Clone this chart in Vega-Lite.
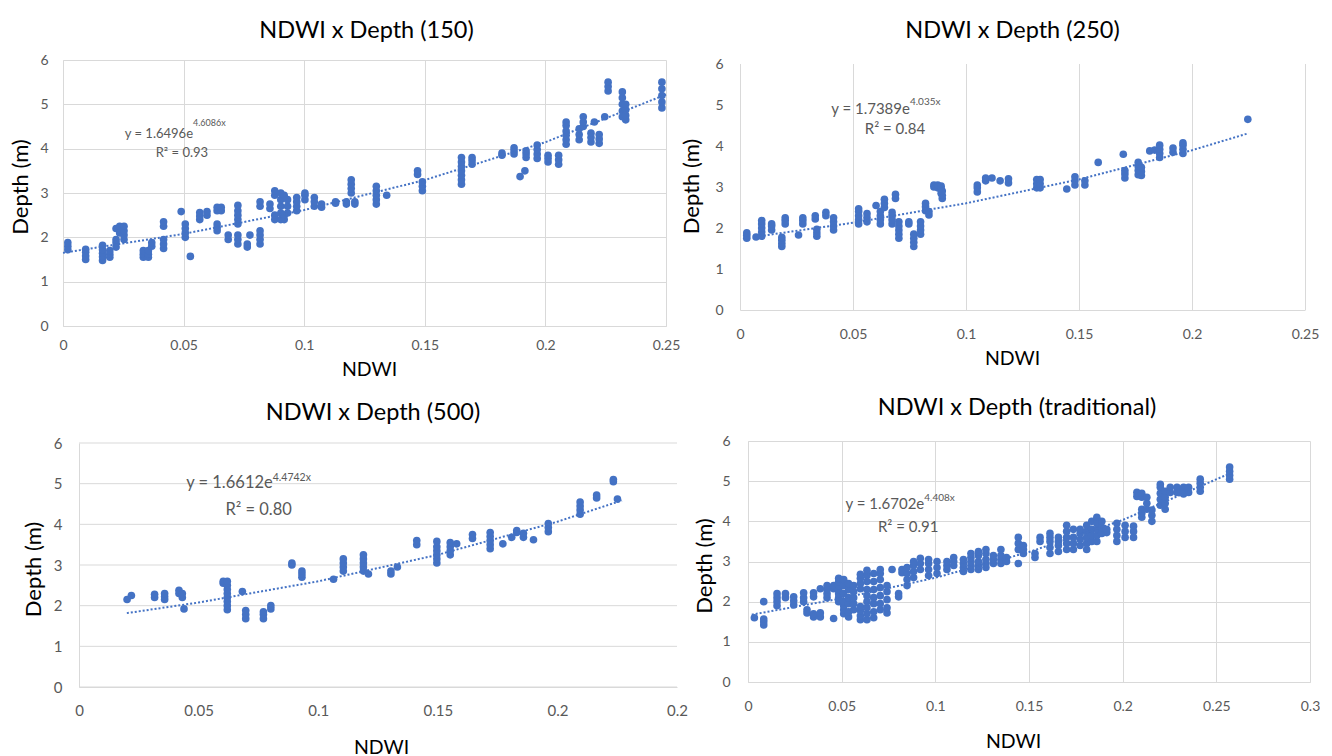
{
"$schema": "https://vega.github.io/schema/vega-lite/v6.json",
"background": "white",
"padding": {"left": 9, "top": 18, "right": 0, "bottom": 0},
"config": {
  "view": {"stroke": null},
  "font": "Lato",
  "axis": {"gridColor": "#d9d9d9", "domainColor": "#d9d9d9", "ticks": false, "labelColor": "#595959", "labelFontSize": 14, "labelFont": "Lato", "titleFont": "Lato", "titleColor": "#000000", "titleFontWeight": "normal", "labelFlush": false, "labelOverlap": false},
  "title": {"fontSize": 23.5, "fontWeight": "normal", "color": "#000000", "font": "Lato"}
},
"datasets": {
  "p150": [
    {"ndwi":0.002,"depth":1.72},{"ndwi":0.002,"depth":1.8},{"ndwi":0.002,"depth":1.88},
    {"ndwi":0.0094,"depth":1.5},{"ndwi":0.0094,"depth":1.58},{"ndwi":0.0094,"depth":1.66},{"ndwi":0.0094,"depth":1.73},
    {"ndwi":0.0164,"depth":1.48},{"ndwi":0.0164,"depth":1.56},{"ndwi":0.0164,"depth":1.64},{"ndwi":0.0164,"depth":1.72},{"ndwi":0.0164,"depth":1.82},
    {"ndwi":0.0194,"depth":1.55},{"ndwi":0.0194,"depth":1.62},{"ndwi":0.0194,"depth":1.7},
    {"ndwi":0.022,"depth":1.78},{"ndwi":0.022,"depth":1.88},{"ndwi":0.022,"depth":1.95},{"ndwi":0.022,"depth":2.2},
    {"ndwi":0.0235,"depth":2.1},{"ndwi":0.0235,"depth":2.25},
    {"ndwi":0.0253,"depth":1.95},{"ndwi":0.0253,"depth":2.05},{"ndwi":0.0253,"depth":2.15},{"ndwi":0.0253,"depth":2.25},
    {"ndwi":0.0333,"depth":1.55},{"ndwi":0.0333,"depth":1.62},{"ndwi":0.0333,"depth":1.7},
    {"ndwi":0.0354,"depth":1.55},{"ndwi":0.0354,"depth":1.62},{"ndwi":0.0354,"depth":1.7},
    {"ndwi":0.0368,"depth":1.8},{"ndwi":0.0368,"depth":1.88},
    {"ndwi":0.0417,"depth":1.75},{"ndwi":0.0417,"depth":1.85},{"ndwi":0.0417,"depth":1.95},{"ndwi":0.0417,"depth":2.25},{"ndwi":0.0417,"depth":2.35},
    {"ndwi":0.049,"depth":2.58},
    {"ndwi":0.0507,"depth":2.0},{"ndwi":0.0507,"depth":2.1},{"ndwi":0.0507,"depth":2.2},{"ndwi":0.0507,"depth":2.3},
    {"ndwi":0.0528,"depth":1.57},
    {"ndwi":0.0567,"depth":2.4},{"ndwi":0.0567,"depth":2.48},{"ndwi":0.0567,"depth":2.56},
    {"ndwi":0.0597,"depth":2.5},{"ndwi":0.0597,"depth":2.58},
    {"ndwi":0.0639,"depth":2.6},{"ndwi":0.0639,"depth":2.68},{"ndwi":0.0639,"depth":2.15},{"ndwi":0.0639,"depth":2.22},{"ndwi":0.0639,"depth":2.3},
    {"ndwi":0.0656,"depth":2.6},{"ndwi":0.0656,"depth":2.68},
    {"ndwi":0.0685,"depth":1.95},{"ndwi":0.0685,"depth":2.05},
    {"ndwi":0.0725,"depth":2.3},{"ndwi":0.0725,"depth":2.4},{"ndwi":0.0725,"depth":2.5},{"ndwi":0.0725,"depth":2.6},{"ndwi":0.0725,"depth":2.72},{"ndwi":0.0725,"depth":1.85},{"ndwi":0.0725,"depth":1.95},{"ndwi":0.0725,"depth":2.05},
    {"ndwi":0.0764,"depth":1.78},{"ndwi":0.0764,"depth":1.85},
    {"ndwi":0.0775,"depth":2.05},
    {"ndwi":0.0817,"depth":1.85},{"ndwi":0.0817,"depth":1.95},{"ndwi":0.0817,"depth":2.05},{"ndwi":0.0817,"depth":2.15},{"ndwi":0.0817,"depth":2.7},{"ndwi":0.0817,"depth":2.8},
    {"ndwi":0.0858,"depth":2.65},{"ndwi":0.0858,"depth":2.75},
    {"ndwi":0.0878,"depth":2.95},{"ndwi":0.0878,"depth":3.05},{"ndwi":0.0878,"depth":2.4},{"ndwi":0.0878,"depth":2.5},
    {"ndwi":0.0903,"depth":2.4},{"ndwi":0.0903,"depth":2.55},{"ndwi":0.0903,"depth":2.7},{"ndwi":0.0903,"depth":2.85},{"ndwi":0.0903,"depth":3.0},
    {"ndwi":0.0917,"depth":2.4},{"ndwi":0.0917,"depth":2.5},{"ndwi":0.0917,"depth":2.95},
    {"ndwi":0.0931,"depth":2.55},{"ndwi":0.0931,"depth":2.7},{"ndwi":0.0931,"depth":2.85},
    {"ndwi":0.0969,"depth":2.6},{"ndwi":0.0969,"depth":2.7},{"ndwi":0.0969,"depth":2.8},{"ndwi":0.0969,"depth":2.9},
    {"ndwi":0.1003,"depth":2.85},{"ndwi":0.1003,"depth":2.95},{"ndwi":0.1003,"depth":3.0},
    {"ndwi":0.1042,"depth":2.7},{"ndwi":0.1042,"depth":2.8},{"ndwi":0.1042,"depth":2.9},
    {"ndwi":0.1072,"depth":2.68},{"ndwi":0.1072,"depth":2.75},
    {"ndwi":0.113,"depth":2.77},{"ndwi":0.113,"depth":2.8},
    {"ndwi":0.1175,"depth":2.75},{"ndwi":0.1175,"depth":2.8},
    {"ndwi":0.1195,"depth":3.0},{"ndwi":0.1195,"depth":3.1},{"ndwi":0.1195,"depth":3.2},{"ndwi":0.1195,"depth":3.3},
    {"ndwi":0.121,"depth":2.75},{"ndwi":0.121,"depth":2.8},
    {"ndwi":0.1299,"depth":2.75},{"ndwi":0.1299,"depth":2.85},{"ndwi":0.1299,"depth":2.95},{"ndwi":0.1299,"depth":3.05},{"ndwi":0.1299,"depth":3.15},
    {"ndwi":0.1342,"depth":2.95},
    {"ndwi":0.147,"depth":3.42},{"ndwi":0.147,"depth":3.5},
    {"ndwi":0.149,"depth":3.05},{"ndwi":0.149,"depth":3.15},{"ndwi":0.149,"depth":3.25},
    {"ndwi":0.1652,"depth":3.2},{"ndwi":0.1652,"depth":3.3},{"ndwi":0.1652,"depth":3.4},{"ndwi":0.1652,"depth":3.5},{"ndwi":0.1652,"depth":3.6},{"ndwi":0.1652,"depth":3.7},{"ndwi":0.1652,"depth":3.8},
    {"ndwi":0.1696,"depth":3.65},{"ndwi":0.1696,"depth":3.73},{"ndwi":0.1696,"depth":3.8},
    {"ndwi":0.182,"depth":3.85},{"ndwi":0.182,"depth":3.9},
    {"ndwi":0.187,"depth":3.88},{"ndwi":0.187,"depth":3.95},{"ndwi":0.187,"depth":4.02},
    {"ndwi":0.1895,"depth":3.37},
    {"ndwi":0.1915,"depth":3.5},
    {"ndwi":0.192,"depth":3.8},{"ndwi":0.192,"depth":3.88},{"ndwi":0.192,"depth":3.95},
    {"ndwi":0.1966,"depth":3.78},{"ndwi":0.1966,"depth":3.88},{"ndwi":0.1966,"depth":3.98},{"ndwi":0.1966,"depth":4.08},
    {"ndwi":0.2011,"depth":3.7},{"ndwi":0.2011,"depth":3.78},{"ndwi":0.2011,"depth":3.85},
    {"ndwi":0.2055,"depth":3.65},{"ndwi":0.2055,"depth":3.75},{"ndwi":0.2055,"depth":3.85},
    {"ndwi":0.2086,"depth":4.1},{"ndwi":0.2086,"depth":4.2},{"ndwi":0.2086,"depth":4.3},{"ndwi":0.2086,"depth":4.4},{"ndwi":0.2086,"depth":4.52},{"ndwi":0.2086,"depth":4.6},
    {"ndwi":0.214,"depth":4.2},{"ndwi":0.214,"depth":4.32},{"ndwi":0.214,"depth":4.45},
    {"ndwi":0.2157,"depth":4.5},{"ndwi":0.2157,"depth":4.6},{"ndwi":0.2157,"depth":4.72},
    {"ndwi":0.2189,"depth":4.15},{"ndwi":0.2189,"depth":4.25},{"ndwi":0.2189,"depth":4.35},
    {"ndwi":0.2203,"depth":4.6},
    {"ndwi":0.2223,"depth":4.12},{"ndwi":0.2223,"depth":4.22},{"ndwi":0.2223,"depth":4.32},
    {"ndwi":0.2246,"depth":4.72},
    {"ndwi":0.226,"depth":5.3},{"ndwi":0.226,"depth":5.4},{"ndwi":0.226,"depth":5.5},
    {"ndwi":0.2319,"depth":4.72},{"ndwi":0.2319,"depth":4.85},{"ndwi":0.2319,"depth":5.0},{"ndwi":0.2319,"depth":5.15},{"ndwi":0.2319,"depth":5.28},
    {"ndwi":0.2333,"depth":4.65},{"ndwi":0.2333,"depth":4.75},{"ndwi":0.2333,"depth":4.88},{"ndwi":0.2333,"depth":5.0},
    {"ndwi":0.2483,"depth":4.92},{"ndwi":0.2483,"depth":5.05},{"ndwi":0.2483,"depth":5.2},{"ndwi":0.2483,"depth":5.35},{"ndwi":0.2483,"depth":5.5}
  ],
  "p250": [
    {"ndwi":0.003,"depth":1.75},{"ndwi":0.003,"depth":1.82},{"ndwi":0.003,"depth":1.88},
    {"ndwi":0.0071,"depth":1.78},
    {"ndwi":0.0096,"depth":1.8},{"ndwi":0.0096,"depth":1.9},{"ndwi":0.0096,"depth":2.0},{"ndwi":0.0096,"depth":2.1},{"ndwi":0.0096,"depth":2.18},
    {"ndwi":0.014,"depth":1.95},{"ndwi":0.014,"depth":2.05},{"ndwi":0.014,"depth":2.1},
    {"ndwi":0.0185,"depth":1.55},{"ndwi":0.0185,"depth":1.62},{"ndwi":0.0185,"depth":1.7},{"ndwi":0.0185,"depth":1.77},
    {"ndwi":0.02,"depth":2.1},{"ndwi":0.02,"depth":2.18},{"ndwi":0.02,"depth":2.25},
    {"ndwi":0.0259,"depth":1.83},
    {"ndwi":0.0278,"depth":2.1},{"ndwi":0.0278,"depth":2.18},{"ndwi":0.0278,"depth":2.25},
    {"ndwi":0.0333,"depth":2.22},{"ndwi":0.0333,"depth":2.3},
    {"ndwi":0.034,"depth":1.8},{"ndwi":0.034,"depth":1.88},{"ndwi":0.034,"depth":1.97},
    {"ndwi":0.038,"depth":2.3},{"ndwi":0.038,"depth":2.38},
    {"ndwi":0.0414,"depth":1.95},{"ndwi":0.0414,"depth":2.05},{"ndwi":0.0414,"depth":2.15},{"ndwi":0.0414,"depth":2.25},
    {"ndwi":0.0525,"depth":2.1},{"ndwi":0.0525,"depth":2.2},{"ndwi":0.0525,"depth":2.3},{"ndwi":0.0525,"depth":2.4},{"ndwi":0.0525,"depth":2.47},
    {"ndwi":0.0562,"depth":2.15},{"ndwi":0.0562,"depth":2.25},{"ndwi":0.0562,"depth":2.35},
    {"ndwi":0.0602,"depth":2.55},
    {"ndwi":0.0621,"depth":2.1},{"ndwi":0.0621,"depth":2.2},{"ndwi":0.0621,"depth":2.3},{"ndwi":0.0621,"depth":2.4},
    {"ndwi":0.0639,"depth":2.5},{"ndwi":0.0639,"depth":2.6},{"ndwi":0.0639,"depth":2.7},
    {"ndwi":0.0673,"depth":2.1},{"ndwi":0.0673,"depth":2.2},{"ndwi":0.0673,"depth":2.3},{"ndwi":0.0673,"depth":2.38},
    {"ndwi":0.0688,"depth":2.72},{"ndwi":0.0688,"depth":2.82},
    {"ndwi":0.0703,"depth":1.75},{"ndwi":0.0703,"depth":1.85},{"ndwi":0.0703,"depth":1.95},{"ndwi":0.0703,"depth":2.05},{"ndwi":0.0703,"depth":2.15},
    {"ndwi":0.0747,"depth":2.1},{"ndwi":0.0747,"depth":2.15},
    {"ndwi":0.0769,"depth":1.55},{"ndwi":0.0769,"depth":1.65},{"ndwi":0.0769,"depth":1.75},{"ndwi":0.0769,"depth":1.85},
    {"ndwi":0.0799,"depth":1.85},{"ndwi":0.0799,"depth":1.95},{"ndwi":0.0799,"depth":2.05},{"ndwi":0.0799,"depth":2.15},
    {"ndwi":0.0821,"depth":2.42},{"ndwi":0.0821,"depth":2.52},{"ndwi":0.0821,"depth":2.6},
    {"ndwi":0.0836,"depth":2.32},{"ndwi":0.0836,"depth":2.4},
    {"ndwi":0.0858,"depth":3.0},{"ndwi":0.0858,"depth":3.05},
    {"ndwi":0.0875,"depth":2.98},{"ndwi":0.0875,"depth":3.05},
    {"ndwi":0.089,"depth":2.85},{"ndwi":0.089,"depth":2.95},{"ndwi":0.089,"depth":3.02},
    {"ndwi":0.0895,"depth":2.72},{"ndwi":0.0895,"depth":2.8},{"ndwi":0.0895,"depth":2.9},
    {"ndwi":0.105,"depth":2.88},{"ndwi":0.105,"depth":2.98},{"ndwi":0.105,"depth":3.05},
    {"ndwi":0.1087,"depth":3.15},{"ndwi":0.1087,"depth":3.22},
    {"ndwi":0.1115,"depth":3.22},
    {"ndwi":0.1151,"depth":3.15},
    {"ndwi":0.1188,"depth":3.1},{"ndwi":0.1188,"depth":3.2},
    {"ndwi":0.1313,"depth":2.98},{"ndwi":0.1313,"depth":3.08},{"ndwi":0.1313,"depth":3.18},
    {"ndwi":0.1328,"depth":2.98},{"ndwi":0.1328,"depth":3.08},{"ndwi":0.1328,"depth":3.18},
    {"ndwi":0.1446,"depth":2.95},
    {"ndwi":0.1482,"depth":3.05},{"ndwi":0.1482,"depth":3.15},{"ndwi":0.1482,"depth":3.25},
    {"ndwi":0.1526,"depth":3.05},{"ndwi":0.1526,"depth":3.15},
    {"ndwi":0.1585,"depth":3.6},
    {"ndwi":0.1696,"depth":3.8},
    {"ndwi":0.1703,"depth":3.22},{"ndwi":0.1703,"depth":3.32},{"ndwi":0.1703,"depth":3.4},
    {"ndwi":0.1762,"depth":3.3},{"ndwi":0.1762,"depth":3.4},{"ndwi":0.1762,"depth":3.5},{"ndwi":0.1762,"depth":3.6},
    {"ndwi":0.1776,"depth":3.28},{"ndwi":0.1776,"depth":3.38},{"ndwi":0.1776,"depth":3.48},
    {"ndwi":0.1813,"depth":3.88},
    {"ndwi":0.1835,"depth":3.9},
    {"ndwi":0.1857,"depth":3.72},{"ndwi":0.1857,"depth":3.82},{"ndwi":0.1857,"depth":3.92},{"ndwi":0.1857,"depth":4.02},
    {"ndwi":0.1916,"depth":3.85},{"ndwi":0.1916,"depth":3.95},
    {"ndwi":0.196,"depth":3.82},{"ndwi":0.196,"depth":3.92},{"ndwi":0.196,"depth":4.02},{"ndwi":0.196,"depth":4.08},
    {"ndwi":0.2247,"depth":4.65}
  ],
  "p500": [
    {"ndwi":0.0201,"depth":2.15},
    {"ndwi":0.0219,"depth":2.25},
    {"ndwi":0.0316,"depth":2.2},{"ndwi":0.0316,"depth":2.28},
    {"ndwi":0.0358,"depth":2.15},{"ndwi":0.0358,"depth":2.22},{"ndwi":0.0358,"depth":2.3},
    {"ndwi":0.0418,"depth":2.3},{"ndwi":0.0418,"depth":2.38},
    {"ndwi":0.0432,"depth":2.2},{"ndwi":0.0432,"depth":2.3},
    {"ndwi":0.0439,"depth":1.92},
    {"ndwi":0.0603,"depth":2.55},{"ndwi":0.0603,"depth":2.6},
    {"ndwi":0.062,"depth":1.9},{"ndwi":0.062,"depth":2.0},{"ndwi":0.062,"depth":2.1},{"ndwi":0.062,"depth":2.2},{"ndwi":0.062,"depth":2.3},{"ndwi":0.062,"depth":2.4},{"ndwi":0.062,"depth":2.5},{"ndwi":0.062,"depth":2.6},
    {"ndwi":0.0683,"depth":2.35},
    {"ndwi":0.0697,"depth":1.68},{"ndwi":0.0697,"depth":1.78},{"ndwi":0.0697,"depth":1.88},
    {"ndwi":0.0771,"depth":1.68},{"ndwi":0.0771,"depth":1.78},{"ndwi":0.0771,"depth":1.85},
    {"ndwi":0.0802,"depth":1.92},{"ndwi":0.0802,"depth":2.0},
    {"ndwi":0.089,"depth":3.0},{"ndwi":0.089,"depth":3.05},
    {"ndwi":0.0932,"depth":2.7},{"ndwi":0.0932,"depth":2.78},{"ndwi":0.0932,"depth":2.85},
    {"ndwi":0.1064,"depth":2.65},
    {"ndwi":0.1105,"depth":2.85},{"ndwi":0.1105,"depth":2.95},{"ndwi":0.1105,"depth":3.05},{"ndwi":0.1105,"depth":3.15},
    {"ndwi":0.1189,"depth":2.85},{"ndwi":0.1189,"depth":2.95},{"ndwi":0.1189,"depth":3.05},{"ndwi":0.1189,"depth":3.15},{"ndwi":0.1189,"depth":3.25},
    {"ndwi":0.121,"depth":2.78},
    {"ndwi":0.1304,"depth":2.78},{"ndwi":0.1304,"depth":2.85},
    {"ndwi":0.1331,"depth":2.95},
    {"ndwi":0.1412,"depth":3.5},{"ndwi":0.1412,"depth":3.6},
    {"ndwi":0.1496,"depth":3.05},{"ndwi":0.1496,"depth":3.15},{"ndwi":0.1496,"depth":3.25},{"ndwi":0.1496,"depth":3.35},{"ndwi":0.1496,"depth":3.45},{"ndwi":0.1496,"depth":3.58},
    {"ndwi":0.1552,"depth":3.25},{"ndwi":0.1552,"depth":3.35},{"ndwi":0.1552,"depth":3.45},{"ndwi":0.1552,"depth":3.55},
    {"ndwi":0.1579,"depth":3.52},
    {"ndwi":0.1645,"depth":3.65},{"ndwi":0.1645,"depth":3.75},
    {"ndwi":0.1719,"depth":3.4},{"ndwi":0.1719,"depth":3.5},{"ndwi":0.1719,"depth":3.6},{"ndwi":0.1719,"depth":3.7},{"ndwi":0.1719,"depth":3.8},
    {"ndwi":0.1772,"depth":3.52},
    {"ndwi":0.1809,"depth":3.68},
    {"ndwi":0.183,"depth":3.8},{"ndwi":0.183,"depth":3.85},
    {"ndwi":0.1858,"depth":3.68},{"ndwi":0.1858,"depth":3.78},
    {"ndwi":0.19,"depth":3.62},
    {"ndwi":0.1962,"depth":3.82},{"ndwi":0.1962,"depth":3.92},{"ndwi":0.1962,"depth":4.02},
    {"ndwi":0.2095,"depth":4.25},{"ndwi":0.2095,"depth":4.35},{"ndwi":0.2095,"depth":4.45},{"ndwi":0.2095,"depth":4.55},
    {"ndwi":0.2164,"depth":4.65},{"ndwi":0.2164,"depth":4.72},
    {"ndwi":0.2234,"depth":5.05},{"ndwi":0.2234,"depth":5.1},
    {"ndwi":0.2251,"depth":4.62}
  ],
  "ptrad": [
    {"ndwi":0.0034,"depth":1.6},
    {"ndwi":0.0084,"depth":1.42},{"ndwi":0.0084,"depth":1.5},{"ndwi":0.0084,"depth":1.57},{"ndwi":0.0084,"depth":2.0},
    {"ndwi":0.0155,"depth":1.9},{"ndwi":0.0155,"depth":2.0},{"ndwi":0.0155,"depth":2.1},{"ndwi":0.0155,"depth":2.2},
    {"ndwi":0.02,"depth":2.1},{"ndwi":0.02,"depth":2.2},
    {"ndwi":0.0244,"depth":1.92},{"ndwi":0.0244,"depth":2.02},{"ndwi":0.0244,"depth":2.12},
    {"ndwi":0.0297,"depth":2.0},{"ndwi":0.0297,"depth":2.1},{"ndwi":0.0297,"depth":2.22},
    {"ndwi":0.0315,"depth":1.72},{"ndwi":0.0315,"depth":1.8},
    {"ndwi":0.035,"depth":1.62},{"ndwi":0.035,"depth":1.7},{"ndwi":0.035,"depth":2.12},{"ndwi":0.035,"depth":2.22},
    {"ndwi":0.0386,"depth":1.62},{"ndwi":0.0386,"depth":1.72},{"ndwi":0.0386,"depth":2.32},
    {"ndwi":0.0422,"depth":2.1},{"ndwi":0.0422,"depth":2.2},{"ndwi":0.0422,"depth":2.3},{"ndwi":0.0422,"depth":2.4},
    {"ndwi":0.0457,"depth":1.58},{"ndwi":0.0457,"depth":2.32},{"ndwi":0.0457,"depth":2.4},
    {"ndwi":0.0484,"depth":2.0},{"ndwi":0.0484,"depth":2.1},{"ndwi":0.0484,"depth":2.2},{"ndwi":0.0484,"depth":2.3},{"ndwi":0.0484,"depth":2.4},{"ndwi":0.0484,"depth":2.5},{"ndwi":0.0484,"depth":2.58},
    {"ndwi":0.0511,"depth":1.7},{"ndwi":0.0511,"depth":1.8},{"ndwi":0.0511,"depth":1.9},{"ndwi":0.0511,"depth":2.0},{"ndwi":0.0511,"depth":2.2},{"ndwi":0.0511,"depth":2.4},{"ndwi":0.0511,"depth":2.55},
    {"ndwi":0.0537,"depth":1.62},{"ndwi":0.0537,"depth":1.75},{"ndwi":0.0537,"depth":1.95},{"ndwi":0.0537,"depth":2.1},{"ndwi":0.0537,"depth":2.3},{"ndwi":0.0537,"depth":2.45},
    {"ndwi":0.0564,"depth":1.8},{"ndwi":0.0564,"depth":1.95},{"ndwi":0.0564,"depth":2.1},{"ndwi":0.0564,"depth":2.25},{"ndwi":0.0564,"depth":2.4},
    {"ndwi":0.06,"depth":1.55},{"ndwi":0.06,"depth":1.65},{"ndwi":0.06,"depth":1.78},{"ndwi":0.06,"depth":1.88},{"ndwi":0.06,"depth":2.32},{"ndwi":0.06,"depth":2.45},{"ndwi":0.06,"depth":2.58},{"ndwi":0.06,"depth":2.68},
    {"ndwi":0.0635,"depth":1.55},{"ndwi":0.0635,"depth":1.7},{"ndwi":0.0635,"depth":1.85},{"ndwi":0.0635,"depth":2.0},{"ndwi":0.0635,"depth":2.15},{"ndwi":0.0635,"depth":2.3},{"ndwi":0.0635,"depth":2.5},{"ndwi":0.0635,"depth":2.65},{"ndwi":0.0635,"depth":2.78},
    {"ndwi":0.0671,"depth":1.6},{"ndwi":0.0671,"depth":1.75},{"ndwi":0.0671,"depth":1.95},{"ndwi":0.0671,"depth":2.1},{"ndwi":0.0671,"depth":2.3},{"ndwi":0.0671,"depth":2.5},{"ndwi":0.0671,"depth":2.7},
    {"ndwi":0.0706,"depth":1.8},{"ndwi":0.0706,"depth":1.95},{"ndwi":0.0706,"depth":2.15},{"ndwi":0.0706,"depth":2.35},{"ndwi":0.0706,"depth":2.55},{"ndwi":0.0706,"depth":2.7},{"ndwi":0.0706,"depth":2.8},
    {"ndwi":0.0742,"depth":1.72},{"ndwi":0.0742,"depth":1.85},{"ndwi":0.0742,"depth":2.05},{"ndwi":0.0742,"depth":2.25},{"ndwi":0.0742,"depth":2.4},
    {"ndwi":0.0769,"depth":2.8},
    {"ndwi":0.0804,"depth":2.12},{"ndwi":0.0804,"depth":2.2},
    {"ndwi":0.0822,"depth":2.72},{"ndwi":0.0822,"depth":2.8},
    {"ndwi":0.0849,"depth":2.4},{"ndwi":0.0849,"depth":2.55},{"ndwi":0.0849,"depth":2.7},{"ndwi":0.0849,"depth":2.85},
    {"ndwi":0.0884,"depth":2.6},{"ndwi":0.0884,"depth":2.75},{"ndwi":0.0884,"depth":2.9},{"ndwi":0.0884,"depth":3.0},
    {"ndwi":0.092,"depth":2.8},{"ndwi":0.092,"depth":2.95},{"ndwi":0.092,"depth":3.08},
    {"ndwi":0.0964,"depth":2.65},{"ndwi":0.0964,"depth":2.8},{"ndwi":0.0964,"depth":2.95},{"ndwi":0.0964,"depth":3.05},
    {"ndwi":0.1009,"depth":2.7},{"ndwi":0.1009,"depth":2.85},{"ndwi":0.1009,"depth":3.0},
    {"ndwi":0.1062,"depth":2.8},{"ndwi":0.1062,"depth":2.9},{"ndwi":0.1062,"depth":3.0},
    {"ndwi":0.1098,"depth":2.9},{"ndwi":0.1098,"depth":3.0},{"ndwi":0.1098,"depth":3.1},
    {"ndwi":0.115,"depth":2.75},{"ndwi":0.115,"depth":2.85},{"ndwi":0.115,"depth":2.95},{"ndwi":0.115,"depth":3.05},
    {"ndwi":0.119,"depth":2.8},{"ndwi":0.119,"depth":2.9},{"ndwi":0.119,"depth":3.0},{"ndwi":0.119,"depth":3.1},{"ndwi":0.119,"depth":3.2},
    {"ndwi":0.123,"depth":2.8},{"ndwi":0.123,"depth":2.9},{"ndwi":0.123,"depth":3.0},{"ndwi":0.123,"depth":3.15},{"ndwi":0.123,"depth":3.25},
    {"ndwi":0.127,"depth":2.85},{"ndwi":0.127,"depth":2.95},{"ndwi":0.127,"depth":3.05},{"ndwi":0.127,"depth":3.2},{"ndwi":0.127,"depth":3.3},
    {"ndwi":0.131,"depth":2.95},{"ndwi":0.131,"depth":3.05},{"ndwi":0.131,"depth":3.15},
    {"ndwi":0.135,"depth":2.95},{"ndwi":0.135,"depth":3.05},{"ndwi":0.135,"depth":3.15},{"ndwi":0.135,"depth":3.3},
    {"ndwi":0.138,"depth":3.0},{"ndwi":0.138,"depth":3.1},
    {"ndwi":0.1443,"depth":2.95},{"ndwi":0.1443,"depth":3.3},{"ndwi":0.1443,"depth":3.45},{"ndwi":0.1443,"depth":3.6},
    {"ndwi":0.147,"depth":3.2},{"ndwi":0.147,"depth":3.3},{"ndwi":0.147,"depth":3.4},
    {"ndwi":0.1532,"depth":3.1},{"ndwi":0.1532,"depth":3.2},
    {"ndwi":0.1559,"depth":3.5},{"ndwi":0.1559,"depth":3.6},
    {"ndwi":0.1612,"depth":3.2},{"ndwi":0.1612,"depth":3.35},{"ndwi":0.1612,"depth":3.5},{"ndwi":0.1612,"depth":3.6},{"ndwi":0.1612,"depth":3.7},
    {"ndwi":0.1657,"depth":3.25},{"ndwi":0.1657,"depth":3.4},{"ndwi":0.1657,"depth":3.5},{"ndwi":0.1657,"depth":3.6},
    {"ndwi":0.1701,"depth":3.3},{"ndwi":0.1701,"depth":3.45},{"ndwi":0.1701,"depth":3.6},{"ndwi":0.1701,"depth":3.75},{"ndwi":0.1701,"depth":3.9},
    {"ndwi":0.1737,"depth":3.3},{"ndwi":0.1737,"depth":3.45},{"ndwi":0.1737,"depth":3.6},{"ndwi":0.1737,"depth":3.8},
    {"ndwi":0.1773,"depth":3.4},{"ndwi":0.1773,"depth":3.55},{"ndwi":0.1773,"depth":3.7},{"ndwi":0.1773,"depth":3.8},
    {"ndwi":0.1808,"depth":3.3},{"ndwi":0.1808,"depth":3.45},{"ndwi":0.1808,"depth":3.6},{"ndwi":0.1808,"depth":3.75},{"ndwi":0.1808,"depth":3.9},
    {"ndwi":0.1835,"depth":3.5},{"ndwi":0.1835,"depth":3.65},{"ndwi":0.1835,"depth":3.8},{"ndwi":0.1835,"depth":4.0},
    {"ndwi":0.1862,"depth":3.5},{"ndwi":0.1862,"depth":3.65},{"ndwi":0.1862,"depth":3.8},{"ndwi":0.1862,"depth":3.95},{"ndwi":0.1862,"depth":4.1},
    {"ndwi":0.1889,"depth":3.7},{"ndwi":0.1889,"depth":3.85},{"ndwi":0.1889,"depth":4.0},
    {"ndwi":0.1915,"depth":3.72},{"ndwi":0.1915,"depth":3.8},
    {"ndwi":0.1969,"depth":3.5},{"ndwi":0.1969,"depth":3.65},{"ndwi":0.1969,"depth":3.8},{"ndwi":0.1969,"depth":3.95},
    {"ndwi":0.2013,"depth":3.6},{"ndwi":0.2013,"depth":3.75},{"ndwi":0.2013,"depth":3.9},
    {"ndwi":0.2058,"depth":3.6},{"ndwi":0.2058,"depth":3.75},{"ndwi":0.2058,"depth":3.88},
    {"ndwi":0.2076,"depth":4.62},{"ndwi":0.2076,"depth":4.72},
    {"ndwi":0.2102,"depth":4.1},{"ndwi":0.2102,"depth":4.2},{"ndwi":0.2102,"depth":4.3},{"ndwi":0.2102,"depth":4.6},{"ndwi":0.2102,"depth":4.7},
    {"ndwi":0.2129,"depth":4.3},{"ndwi":0.2129,"depth":4.45},{"ndwi":0.2129,"depth":4.6},
    {"ndwi":0.2156,"depth":4.0},{"ndwi":0.2156,"depth":4.15},{"ndwi":0.2156,"depth":4.28},
    {"ndwi":0.2201,"depth":4.4},{"ndwi":0.2201,"depth":4.55},{"ndwi":0.2201,"depth":4.7},{"ndwi":0.2201,"depth":4.85},{"ndwi":0.2201,"depth":4.92},
    {"ndwi":0.2227,"depth":4.3},{"ndwi":0.2227,"depth":4.45},{"ndwi":0.2227,"depth":4.6},{"ndwi":0.2227,"depth":4.75},
    {"ndwi":0.2254,"depth":4.72},{"ndwi":0.2254,"depth":4.85},
    {"ndwi":0.229,"depth":4.72},{"ndwi":0.229,"depth":4.85},
    {"ndwi":0.2325,"depth":4.68},{"ndwi":0.2325,"depth":4.78},{"ndwi":0.2325,"depth":4.85},
    {"ndwi":0.2352,"depth":4.72},{"ndwi":0.2352,"depth":4.85},
    {"ndwi":0.2414,"depth":4.75},{"ndwi":0.2414,"depth":4.85},{"ndwi":0.2414,"depth":4.95},{"ndwi":0.2414,"depth":5.05},
    {"ndwi":0.2571,"depth":5.05},{"ndwi":0.2571,"depth":5.15},{"ndwi":0.2571,"depth":5.25},{"ndwi":0.2571,"depth":5.35}
  ],
  "t150": [{"ndwi":0,"depth":1.6496},{"ndwi":0.05,"depth":2.077},{"ndwi":0.1,"depth":2.6153},{"ndwi":0.15,"depth":3.2931},{"ndwi":0.2,"depth":4.1464},{"ndwi":0.25,"depth":5.221}],
  "t250": [{"ndwi":0.007,"depth":1.7887},{"ndwi":0.05,"depth":2.1276},{"ndwi":0.1,"depth":2.6031},{"ndwi":0.15,"depth":3.1852},{"ndwi":0.2,"depth":3.8971},{"ndwi":0.225,"depth":4.311}],
  "t500": [{"ndwi":0.02,"depth":1.8167},{"ndwi":0.05,"depth":2.0777},{"ndwi":0.1,"depth":2.5987},{"ndwi":0.15,"depth":3.2502},{"ndwi":0.2,"depth":4.0648},{"ndwi":0.227,"depth":4.5868}],
  "ttrad": [{"ndwi":0.002,"depth":1.677},{"ndwi":0.05,"depth":2.0821},{"ndwi":0.1,"depth":2.5955},{"ndwi":0.15,"depth":3.2355},{"ndwi":0.2,"depth":4.0332},{"ndwi":0.258,"depth":5.208}],
  "xgrid250": [{"ndwi":0},{"ndwi":0.05},{"ndwi":0.1},{"ndwi":0.15},{"ndwi":0.2},{"ndwi":0.25}],
  "ygrid500": [{"depth":0},{"depth":1},{"depth":2},{"depth":3},{"depth":4},{"depth":5},{"depth":6}]
},
"spacing": 16,
"vconcat": [
 {"spacing": 0, "hconcat": [
  {"width": 603, "height": 266,
   "title": {"text": "NDWI x Depth (150)", "offset": 11, "dx": 2},
   "layer": [
    {"data": {"name": "p150"}, "mark": {"type": "circle", "size": 58, "color": "#4472C4", "opacity": 1},
     "encoding": {
      "x": {"field": "ndwi", "type": "quantitative", "scale": {"domain": [0, 0.25], "nice": false, "zero": false},
            "axis": {"values": [0, 0.05, 0.1, 0.15, 0.2, 0.25], "labelExpr": "format(datum.value, '~g')", "title": "NDWI", "titleFontSize": 19.5, "labelPadding": 12, "titlePadding": 8, "titleX": 306}},
      "y": {"field": "depth", "type": "quantitative", "scale": {"domain": [0, 6], "nice": false, "zero": false},
            "axis": {"values": [0, 1, 2, 3, 4, 5, 6], "title": "Depth (m)", "titleFontSize": 22, "labelPadding": 15, "titlePadding": 7.5, "titleY": 126.5}}}},
    {"data": {"name": "t150"}, "mark": {"type": "line", "color": "#4472C4", "strokeWidth": 2, "strokeDash": [2, 2]},
     "encoding": {"x": {"field": "ndwi", "type": "quantitative"}, "y": {"field": "depth", "type": "quantitative"}}},
    {"data": {"values": [{"ndwi": 0.0539, "depth": 4.33, "label": "y = 1.6496e"}]}, "mark": {"type": "text", "align": "right", "baseline": "middle", "fontSize": 13, "color": "#595959"},
     "encoding": {"x": {"field": "ndwi", "type": "quantitative"}, "y": {"field": "depth", "type": "quantitative"}, "text": {"field": "label"}}},
    {"data": {"values": [{"ndwi": 0.0539, "depth": 4.58, "label": "4.6086x"}]}, "mark": {"type": "text", "align": "left", "baseline": "middle", "fontSize": 9, "color": "#595959"},
     "encoding": {"x": {"field": "ndwi", "type": "quantitative"}, "y": {"field": "depth", "type": "quantitative"}, "text": {"field": "label"}}},
    {"data": {"values": [{"ndwi": 0.0493, "depth": 3.9, "label": "R² = 0.93"}]}, "mark": {"type": "text", "align": "center", "baseline": "middle", "fontSize": 13, "color": "#595959"},
     "encoding": {"x": {"field": "ndwi", "type": "quantitative"}, "y": {"field": "depth", "type": "quantitative"}, "text": {"field": "label"}}}
   ]},
  {"width": 565, "height": 250,
   "title": {"text": "NDWI x Depth (250)", "offset": 15, "dx": -10},
   "layer": [
    {"data": {"name": "xgrid250"}, "mark": {"type": "rule", "color": "#d9d9d9", "strokeWidth": 1, "xOffset": 0.5},
     "encoding": {"x": {"field": "ndwi", "type": "quantitative"}, "y": {"datum": 0, "type": "quantitative"}, "y2": {"datum": 6}}},
    {"data": {"name": "p250"}, "mark": {"type": "circle", "size": 58, "color": "#4472C4", "opacity": 1},
     "encoding": {
      "x": {"field": "ndwi", "type": "quantitative", "scale": {"domain": [0, 0.25], "nice": false, "zero": false},
            "axis": {"values": [0, 0.05, 0.1, 0.15, 0.2, 0.25], "grid": false, "labelExpr": "format(datum.value, '~g')", "title": "NDWI", "titleFontSize": 19.5, "labelPadding": 17, "titlePadding": 8, "titleX": 272}},
      "y": {"field": "depth", "type": "quantitative", "scale": {"domain": [0, 6], "nice": false, "zero": false, "range": [250, 4]},
            "axis": {"values": [0, 1, 2, 3, 4, 5, 6], "title": "Depth (m)", "titleFontSize": 22, "labelPadding": 17, "titlePadding": 11.5, "titleY": 126}}}},
    {"data": {"name": "t250"}, "mark": {"type": "line", "color": "#4472C4", "strokeWidth": 2, "strokeDash": [2, 2]},
     "encoding": {"x": {"field": "ndwi", "type": "quantitative"}, "y": {"field": "depth", "type": "quantitative"}}},
    {"data": {"values": [{"ndwi": 0.0752, "depth": 4.9, "label": "y = 1.7389e"}]}, "mark": {"type": "text", "align": "right", "baseline": "middle", "fontSize": 15, "color": "#595959"},
     "encoding": {"x": {"field": "ndwi", "type": "quantitative"}, "y": {"field": "depth", "type": "quantitative"}, "text": {"field": "label"}}},
    {"data": {"values": [{"ndwi": 0.0752, "depth": 5.08, "label": "4.035x"}]}, "mark": {"type": "text", "align": "left", "baseline": "middle", "fontSize": 10, "color": "#595959"},
     "encoding": {"x": {"field": "ndwi", "type": "quantitative"}, "y": {"field": "depth", "type": "quantitative"}, "text": {"field": "label"}}},
    {"data": {"values": [{"ndwi": 0.0686, "depth": 4.41, "label": "R² = 0.84"}]}, "mark": {"type": "text", "align": "center", "baseline": "middle", "fontSize": 15, "color": "#595959"},
     "encoding": {"x": {"field": "ndwi", "type": "quantitative"}, "y": {"field": "depth", "type": "quantitative"}, "text": {"field": "label"}}}
   ]}
 ]},
 {"spacing": 5, "hconcat": [
  {"width": 614, "height": 246,
   "title": {"text": "NDWI x Depth (500)", "offset": 12, "dx": 3},
   "layer": [
    {"data": {"name": "ygrid500"}, "mark": {"type": "rule", "color": "#d9d9d9", "strokeWidth": 1},
     "encoding": {"y": {"field": "depth", "type": "quantitative"}, "x": {"datum": 0, "type": "quantitative"}, "x2": {"datum": 0.25}}},
    {"data": {"name": "p500"}, "mark": {"type": "circle", "size": 58, "color": "#4472C4", "opacity": 1},
     "encoding": {
      "x": {"field": "ndwi", "type": "quantitative", "scale": {"domain": [0, 0.25], "nice": false, "zero": false, "range": [16, 614]},
            "axis": {"values": [0, 0.05, 0.1, 0.15, 0.2, 0.25], "labelExpr": "datum.value > 0.24 ? '0.2' : format(datum.value, '~g')", "labelFontSize": 15, "title": "NDWI", "titleFontSize": 19.5, "labelPadding": 16, "titlePadding": 20, "titleX": 318}},
      "y": {"field": "depth", "type": "quantitative", "scale": {"domain": [0, 6], "nice": false, "zero": false, "range": [246, 2]},
            "axis": {"values": [0, 1, 2, 3, 4, 5, 6], "grid": false, "labelFontSize": 15, "title": "Depth (m)", "titleFontSize": 22, "labelPadding": 17, "titlePadding": 8, "titleY": 128, "offset": -16}}}},
    {"data": {"name": "t500"}, "mark": {"type": "line", "color": "#4472C4", "strokeWidth": 2, "strokeDash": [2, 2]},
     "encoding": {"x": {"field": "ndwi", "type": "quantitative"}, "y": {"field": "depth", "type": "quantitative"}}},
    {"data": {"values": [{"ndwi": 0.081, "depth": 5.02, "label": "y = 1.6612e"}]}, "mark": {"type": "text", "align": "right", "baseline": "middle", "fontSize": 16.5, "color": "#595959"},
     "encoding": {"x": {"field": "ndwi", "type": "quantitative"}, "y": {"field": "depth", "type": "quantitative"}, "text": {"field": "label"}}},
    {"data": {"values": [{"ndwi": 0.081, "depth": 5.13, "label": "4.4742x"}]}, "mark": {"type": "text", "align": "left", "baseline": "middle", "fontSize": 10.5, "color": "#595959"},
     "encoding": {"x": {"field": "ndwi", "type": "quantitative"}, "y": {"field": "depth", "type": "quantitative"}, "text": {"field": "label"}}},
    {"data": {"values": [{"ndwi": 0.0751, "depth": 4.35, "label": "R² = 0.80"}]}, "mark": {"type": "text", "align": "center", "baseline": "middle", "fontSize": 16.5, "color": "#595959"},
     "encoding": {"x": {"field": "ndwi", "type": "quantitative"}, "y": {"field": "depth", "type": "quantitative"}, "text": {"field": "label"}}}
   ]},
  {"width": 562, "height": 241,
   "title": {"text": "NDWI x Depth (traditional)", "offset": 15, "dx": -12},
   "layer": [
    {"data": {"name": "ptrad"}, "mark": {"type": "circle", "size": 58, "color": "#4472C4", "opacity": 1},
     "encoding": {
      "x": {"field": "ndwi", "type": "quantitative", "scale": {"domain": [0, 0.3], "nice": false, "zero": false},
            "axis": {"values": [0, 0.05, 0.1, 0.15, 0.2, 0.25, 0.3], "labelExpr": "format(datum.value, '~g')", "title": "NDWI", "titleFontSize": 19.5, "labelPadding": 17, "titlePadding": 19, "titleX": 265}},
      "y": {"field": "depth", "type": "quantitative", "scale": {"domain": [0, 6], "nice": false, "zero": false},
            "axis": {"values": [0, 1, 2, 3, 4, 5, 6], "title": "Depth (m)", "titleFontSize": 22, "labelPadding": 18, "titlePadding": 5.5, "titleY": 124.5}}}},
    {"data": {"name": "ttrad"}, "mark": {"type": "line", "color": "#4472C4", "strokeWidth": 2, "strokeDash": [2, 2]},
     "encoding": {"x": {"field": "ndwi", "type": "quantitative"}, "y": {"field": "depth", "type": "quantitative"}}},
    {"data": {"values": [{"ndwi": 0.0941, "depth": 4.42, "label": "y = 1.6702e"}]}, "mark": {"type": "text", "align": "right", "baseline": "middle", "fontSize": 15, "color": "#595959"},
     "encoding": {"x": {"field": "ndwi", "type": "quantitative"}, "y": {"field": "depth", "type": "quantitative"}, "text": {"field": "label"}}},
    {"data": {"values": [{"ndwi": 0.0941, "depth": 4.57, "label": "4.408x"}]}, "mark": {"type": "text", "align": "left", "baseline": "middle", "fontSize": 10, "color": "#595959"},
     "encoding": {"x": {"field": "ndwi", "type": "quantitative"}, "y": {"field": "depth", "type": "quantitative"}, "text": {"field": "label"}}},
    {"data": {"values": [{"ndwi": 0.0855, "depth": 3.85, "label": "R² = 0.91"}]}, "mark": {"type": "text", "align": "center", "baseline": "middle", "fontSize": 15, "color": "#595959"},
     "encoding": {"x": {"field": "ndwi", "type": "quantitative"}, "y": {"field": "depth", "type": "quantitative"}, "text": {"field": "label"}}}
   ]}
 ]}
]
}
